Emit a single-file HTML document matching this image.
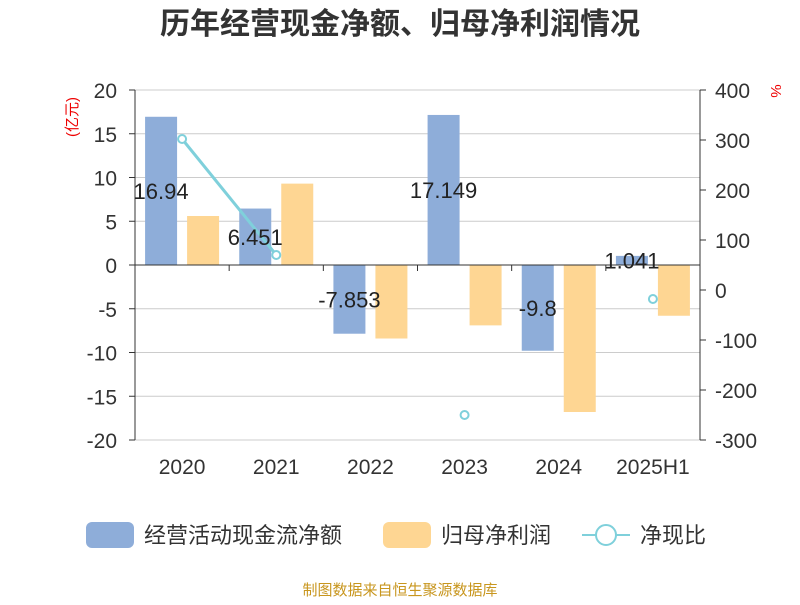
<!DOCTYPE html>
<html><head><meta charset="utf-8"><style>
body{margin:0;background:#fff;font-family:"Liberation Sans","Noto Sans CJK SC",sans-serif}
</style></head><body>
<svg id="c" width="800" height="600" xmlns="http://www.w3.org/2000/svg" font-family="Liberation Sans, Noto Sans CJK SC, sans-serif">
<text x="400" y="34" text-anchor="middle" font-size="30" font-weight="bold" fill="#333">历年经营现金净额、归母净利润情况</text>
<text transform="translate(77,117) rotate(-90)" text-anchor="middle" font-size="15" fill="#e00">(亿元)</text>
<text transform="translate(771,91) rotate(90)" text-anchor="middle" font-size="15" fill="#e00">%</text>
<g id="grid"></g><g id="bars"></g><g id="axes"></g><g id="line"></g><g id="labels"></g>
<g>
<rect x="86" y="522" width="48" height="26" rx="6" fill="#8eadd9"/>
<text x="144" y="543" font-size="22" fill="#333">经营活动现金流净额</text>
<rect x="383" y="522" width="48" height="26" rx="6" fill="#fed693"/>
<text x="441" y="543" font-size="22" fill="#333">归母净利润</text>
<line x1="582" y1="535" x2="630" y2="535" stroke="#7fd0db" stroke-width="2"/>
<circle cx="606" cy="535" r="10" fill="#fff" stroke="#7fd0db" stroke-width="2"/>
<text x="640" y="543" font-size="22" fill="#333">净现比</text>
</g>
<text x="400" y="595" text-anchor="middle" font-size="15" fill="#c8961e">制图数据来自恒生聚源数据库</text>
</svg>
<script>
const categories=["2020","2021","2022","2023","2024","2025H1"];
const cashFlow=[16.94,6.451,-7.853,17.149,-9.8,1.041];
const cashLabels=["16.94","6.451","-7.853","17.149","-9.8","1.041"];
const netProfit=[5.6,9.3,-8.4,-6.9,-16.8,-5.8];
const ratio=[302,70,null,-250,null,-18];
const leftTicks=[20,15,10,5,0,-5,-10,-15,-20];
const rightTicks=[400,300,200,100,0,-100,-200,-300];
const NS="http://www.w3.org/2000/svg";
const x0=135,x1=700,bw=(x1-x0)/categories.length;
const yL=v=>265-v*8.75;
const yR=v=>290-v*0.5;
const xC=i=>x0+bw*(i+0.5);
function mk(p,t,a){const e=document.createElementNS(NS,t);for(const k in a)e.setAttribute(k,a[k]);document.getElementById(p).appendChild(e);return e;}
leftTicks.forEach(v=>{
 const g=mk("grid","line",{x1:x0,x2:x1,y1:yL(v),y2:yL(v),stroke:"#ccc","stroke-width":1});
 
 
 const t=mk("axes","text",{x:x0-18,y:yL(v)+8,"text-anchor":"end","font-size":21,fill:"#333"});
 t.textContent=v;
 
 
 const tk=mk("axes","line",{x1:x0-6,x2:x0,y1:yL(v),y2:yL(v),stroke:"#333"});
 
 
});
rightTicks.forEach(v=>{
 const t=mk("axes","text",{x:x1+15,y:yR(v)+8,"font-size":21,fill:"#333"});
 t.textContent=v;
 
 
 const tk=mk("axes","line",{x1:x1,x2:x1+6,y1:yR(v),y2:yR(v),stroke:"#333"});
 
 
});
let a=mk("axes","line",{x1:x0,x2:x0,y1:yL(20),y2:yL(-20),stroke:"#333"});


a=mk("axes","line",{x1:x1,x2:x1,y1:yR(400),y2:yR(-300),stroke:"#333"});


a=mk("axes","line",{x1:x0,x2:x1,y1:yL(0),y2:yL(0),stroke:"#333"});


categories.forEach((c,i)=>{
 const tk=mk("axes","line",{x1:x0+bw*(i+1),x2:x0+bw*(i+1),y1:yL(0),y2:yL(0)+6,stroke:"#333"});
 
 
 const t=mk("axes","text",{x:xC(i),y:474,"text-anchor":"middle","font-size":21,fill:"#333"});
 t.textContent=c;
 
 
 const v=cashFlow[i];
 const b=mk("bars","rect",{x:xC(i)-37,width:32,y:Math.min(yL(v),yL(0)),height:Math.abs(yL(v)-yL(0)),fill:"#8eadd9"});
 
 
 const p=netProfit[i];
 const b2=mk("bars","rect",{x:xC(i)+5,width:32,y:Math.min(yL(p),yL(0)),height:Math.abs(yL(p)-yL(0)),fill:"#fed693"});
 
 
 const l=mk("labels","text",{x:xC(i)-21,y:(yL(v)+yL(0))/2+8,"text-anchor":"middle","font-size":22,fill:"#222"});
 l.textContent=cashLabels[i];
 
 
});
let seg=[];
ratio.forEach((r,i)=>{
 if(r===null){seg=[];return;}
 seg.push([xC(i),yR(r)]);
 if(seg.length>1){
  const ln=mk("line","line",{x1:seg[seg.length-2][0],y1:seg[seg.length-2][1],x2:seg[seg.length-1][0],y2:seg[seg.length-1][1],stroke:"#7fd0db","stroke-width":3});
  
  
 }
});
ratio.forEach((r,i)=>{
 if(r===null)return;
 const d=mk("line","circle",{cx:xC(i),cy:yR(r),r:4,fill:"#fff",stroke:"#7fd0db","stroke-width":2});
 
 
});
</script>
</body></html>
